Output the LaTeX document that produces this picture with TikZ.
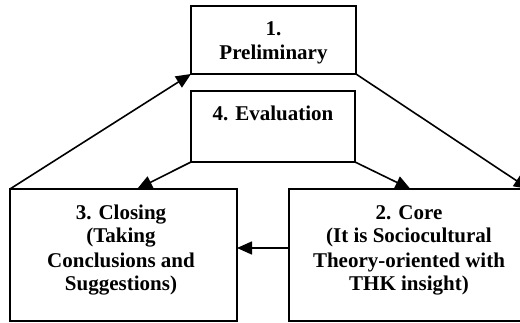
\documentclass[tikz,border=0pt]{standalone}
\usepackage{fontspec}
\setmainfont{Liberation Serif}
\usetikzlibrary{arrows.meta,calc}
\begin{document}
\begin{tikzpicture}[x=1pt,y=-1pt,
  box/.style={draw, line width=1.6pt, inner sep=0pt, outer sep=0pt},
  lbl/.style={font=\bfseries\fontsize{21}{24}\selectfont, align=center, inner sep=0pt, anchor=base},
  arr/.style={line width=1.6pt, -{Triangle[length=15pt,width=13pt]}}]
\useasboundingbox (0,0) rectangle (520,323);
% boxes
\node[box, minimum width=165pt, minimum height=68pt] (p1) at (273.5,40) {};
\node[box, minimum width=164pt, minimum height=71pt] (p4) at (273,126.5) {};
\node[box, minimum width=227pt, minimum height=132pt] (p3) at (123.5,255) {};
\node[box, minimum width=240pt, minimum height=132pt] (p2) at (409,255) {};
% texts (base anchor = baseline of the last line)
\node[lbl] (t1) at (273.5,60) {1.\\Preliminary};
\node[lbl] (t4) at (273,121) {4. Evaluation};
\node[lbl] (t3) at (121,291) {3. Closing\\(Taking\\Conclusions and\\Suggestions)};
\node[lbl] (t2) at (409,291) {2. Core\\(It is Sociocultural\\Theory-oriented with\\THK insight)};
% connectors
\draw[arr] (p3.north west) -- (p1.south west);
\draw[arr] (p1.south east) -- (p2.north east);
\draw[arr] (p4.south west) -- ($(p3.north west)!0.56!(p3.north east)$);
\draw[arr] (p4.south east) -- ($(p2.north west)!0.506!(p2.north east)$);
\draw[arr] ([yshift=7pt]p2.west) -- ([yshift=7pt]p3.east);
\end{tikzpicture}
\end{document}
